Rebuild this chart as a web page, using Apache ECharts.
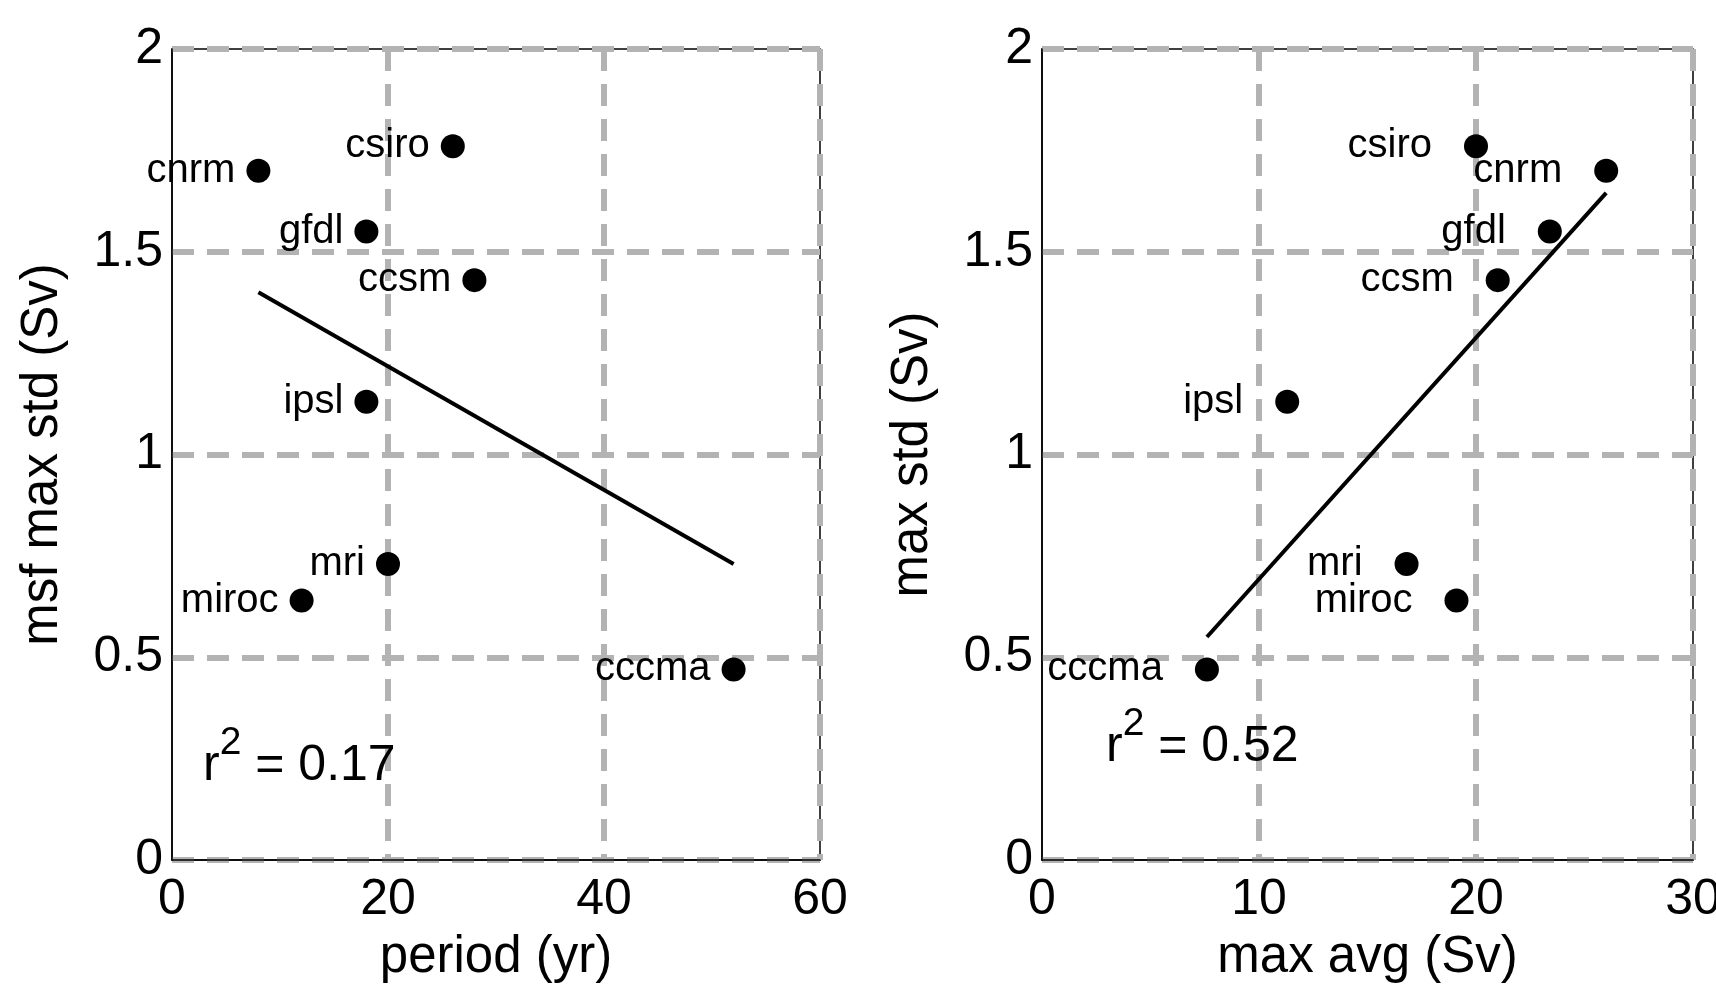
<!DOCTYPE html>
<html>
<head>
<meta charset="utf-8">
<script src="https://cdn.jsdelivr.net/npm/echarts@6/dist/echarts.min.js"></script>
<style>
html, body { margin: 0; padding: 0; background: #fff; }
#chart { width: 1716px; height: 985px; }
</style>
</head>
<body>
<div id="chart"></div>
<script>
// model names
var models = ['cnrm', 'csiro', 'gfdl', 'ccsm', 'ipsl', 'mri', 'miroc', 'cccma'];
// left panel: period (yr) vs msf max std (Sv)
var period = [8, 26, 18, 28, 18, 20, 12, 52];
var maxStd = [1.70, 1.76, 1.55, 1.43, 1.13, 0.73, 0.64, 0.47];
// right panel: max avg (Sv) vs max std (Sv)
var maxAvg = [26.0, 20.0, 23.4, 21.0, 11.3, 16.8, 19.1, 7.6];
// fit lines
var fitLeft = [[8, 1.40], [52, 0.73]];
var fitRight = [[7.6, 0.55], [26.0, 1.645]];

function pts(xs, ys) {
    var out = [];
    for (var i = 0; i < models.length; i++) {
        out.push({ name: models[i], value: [xs[i], ys[i]] });
    }
    return out;
}

var font = 'Liberation Sans, Arial, sans-serif';
var gridLine = { show: true, lineStyle: { color: '#b3b3b3', width: 6, type: [22, 13] } };

function xAxisCfg(idx, max, interval, name) {
    return {
        gridIndex: idx, type: 'value', min: 0, max: max, interval: interval,
        name: name, nameLocation: 'middle', nameGap: 72,
        nameTextStyle: { fontFamily: font, fontSize: 51, color: '#000' },
        axisLine: { show: true, onZero: false, lineStyle: { color: '#000', width: 1.5 } },
        axisTick: { show: false },
        axisLabel: { fontFamily: font, fontSize: 50, color: '#000', margin: 15 },
        splitLine: Object.assign({ showMinLine: false }, gridLine)
    };
}
function yAxisCfg(idx, name) {
    return {
        gridIndex: idx, type: 'value', min: 0, max: 2, interval: 0.5,
        name: name, nameLocation: 'middle', nameGap: 104,
        nameTextStyle: { fontFamily: font, fontSize: 51, color: '#000' },
        axisLine: { show: true, onZero: false, lineStyle: { color: '#000', width: 1.5 } },
        axisTick: { show: false },
        axisLabel: { fontFamily: font, fontSize: 50, color: '#000', margin: 9 },
        splitLine: gridLine
    };
}
function scatterCfg(idx, data, dist) {
    return {
        type: 'scatter', xAxisIndex: idx, yAxisIndex: idx, data: data,
        symbolSize: 24, itemStyle: { color: '#000', opacity: 1 }, z: 3,
        label: { show: true, position: 'left', distance: dist, formatter: '{b}',
            fontFamily: font, fontSize: 40, color: '#000' }
    };
}
function fitCfg(idx, data) {
    return {
        type: 'line', xAxisIndex: idx, yAxisIndex: idx, data: data,
        symbol: 'none', lineStyle: { color: '#000', width: 4 }, z: 2
    };
}

// r^2 text with a raised "2"
var rich = {
    a: { fontFamily: font, fontSize: 50, color: '#000', lineHeight: 84 },
    s: { fontFamily: font, fontSize: 39, color: '#000', verticalAlign: 'top', lineHeight: 40 }
};

var chart = echarts.init(document.getElementById('chart'));
var option = {
    animation: false,
    backgroundColor: '#fff',
    grid: [
        { left: 172, top: 49, width: 648, height: 811, show: true, borderColor: '#000', borderWidth: 1.5,
          outerBoundsMode: 'none', containLabel: false },
        { left: 1042, top: 49, width: 651, height: 811, show: true, borderColor: '#000', borderWidth: 1.5,
          outerBoundsMode: 'none', containLabel: false }
    ],
    xAxis: [
        xAxisCfg(0, 60, 20, 'period (yr)'),
        xAxisCfg(1, 30, 10, 'max avg (Sv)')
    ],
    yAxis: [
        yAxisCfg(0, 'msf max std (Sv)'),
        yAxisCfg(1, 'max std (Sv)')
    ],
    graphic: [
        { type: 'text', left: 203, top: 724, z: 10,
          style: { text: '{a|r}{s|2}{a| = 0.17}', rich: rich } },
        { type: 'text', left: 1106, top: 705, z: 10,
          style: { text: '{a|r}{s|2}{a| = 0.52}', rich: rich } }
    ],
    series: [
        scatterCfg(0, pts(period, maxStd), 11),
        fitCfg(0, fitLeft),
        scatterCfg(1, pts(maxAvg, maxStd), 32),
        fitCfg(1, fitRight)
    ]
};
chart.setOption(option);
</script>
</body>
</html>
